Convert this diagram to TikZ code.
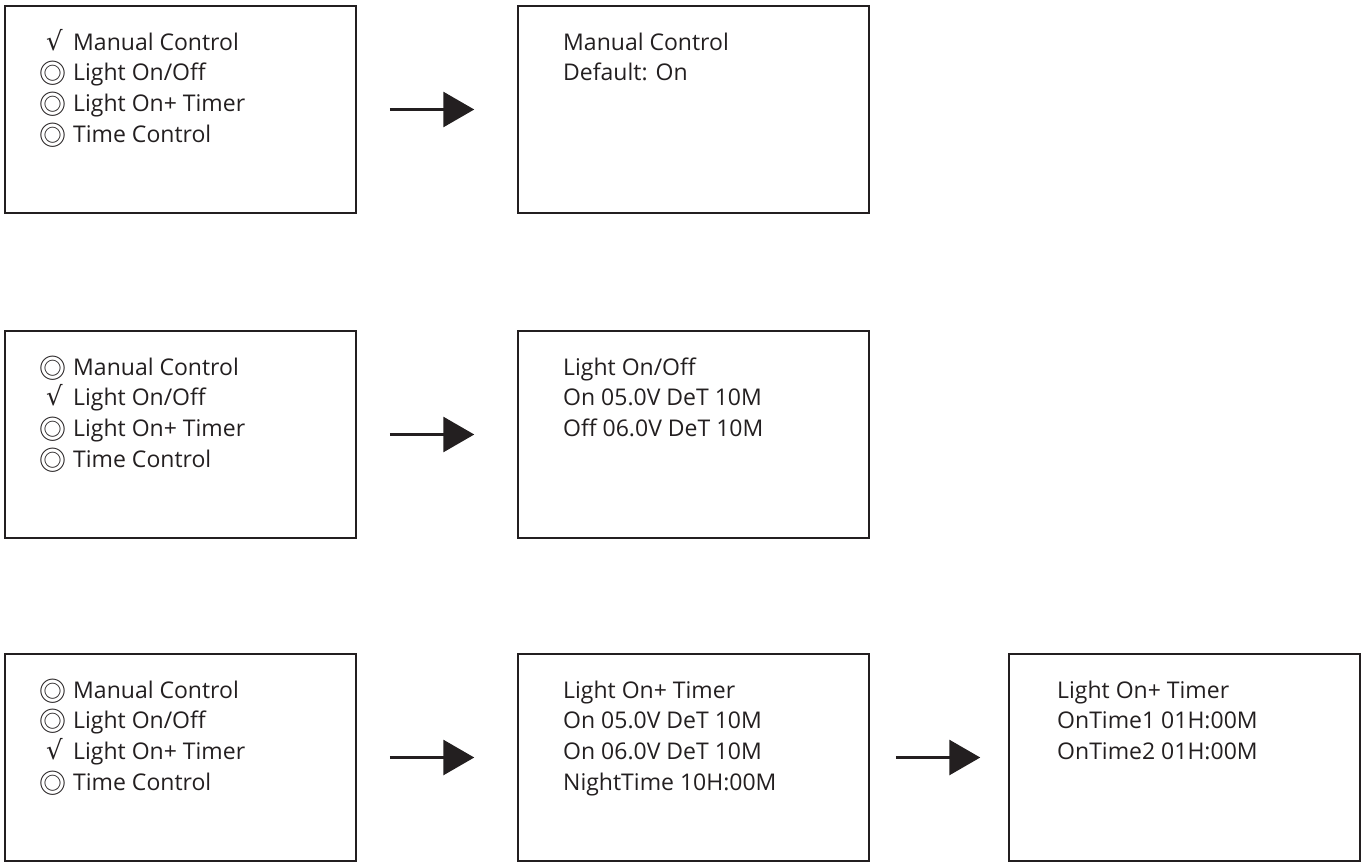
\documentclass[tikz,border=0pt]{standalone}
\usepackage{fontspec}
\setmainfont{Open Sans}
\newfontfamily\symfont{Noto Sans CJK SC}
\newfontfamily\ckfont{DejaVu Sans}
\usetikzlibrary{arrows.meta}
\definecolor{ink}{HTML}{231F20}
\newcommand{\rb}{\makebox[30pt][l]{\hspace{-4pt}\raisebox{-3pt}{\symfont\fontsize{27}{27}\selectfont ◎}}}
\newcommand{\ck}{\makebox[30pt][l]{\hspace{3pt}\ckfont\fontsize{26}{26}\selectfont √}}
\begin{document}
\begin{tikzpicture}[x=1pt,y=-1pt,
  screen/.style={draw=ink,line width=1.5pt,minimum width=351pt,minimum height=207pt,inner sep=0pt},
  txt/.style={anchor=base west,inner sep=0pt,text=ink,font=\fontsize{23}{28}\selectfont},
  flow/.style={draw=ink,line width=3pt,-{Triangle[length=31pt,width=35pt]}}]
\useasboundingbox[fill=white] (0,0) rectangle (1362,862);
% boxes
\node[screen] (b11) at (180.5,109.5) {};
\node[screen] (b12) at (693.5,109.5) {};
\node[screen] (b21) at (180.5,434.5) {};
\node[screen] (b22) at (693.5,434.5) {};
\node[screen] (b31) at (180.5,757.5) {};
\node[screen] (b32) at (693.5,757.5) {};
\node[screen] (b33) at (1184.5,757.5) {};
% row 1
\node[txt] (t11a) at (43,50) {\ck Manual Control};
\node[txt] (t11b) at (43,80.7) {\rb Light On/Off};
\node[txt] (t11c) at (43,111.3) {\rb Light On+ Timer};
\node[txt] (t11d) at (43,142) {\rb Time Control};
\node[txt] (t12a) at (563,50) {Manual Control};
\node[txt] (t12b) at (563,80.7) {Default: On};
% row 2
\node[txt] (t21a) at (43,375) {\rb Manual Control};
\node[txt] (t21b) at (43,405.7) {\ck Light On/Off};
\node[txt] (t21c) at (43,436.3) {\rb Light On+ Timer};
\node[txt] (t21d) at (43,467) {\rb Time Control};
\node[txt] (t22a) at (563,375) {Light On/Off};
\node[txt] (t22b) at (563,405.7) {On 05.0V DeT 10M};
\node[txt] (t22c) at (563,436.3) {Off 06.0V DeT 10M};
% row 3
\node[txt] (t31a) at (43,698) {\rb Manual Control};
\node[txt] (t31b) at (43,728.7) {\rb Light On/Off};
\node[txt] (t31c) at (43,759.3) {\ck Light On+ Timer};
\node[txt] (t31d) at (43,790) {\rb Time Control};
\node[txt] (t32a) at (563,698) {Light On+ Timer};
\node[txt] (t32b) at (563,728.7) {On 05.0V DeT 10M};
\node[txt] (t32c) at (563,759.3) {On 06.0V DeT 10M};
\node[txt] (t32d) at (563,790) {NightTime 10H:00M};
\node[txt] (t33a) at (1057,698) {Light On+ Timer};
\node[txt] (t33b) at (1057,728.7) {OnTime1 01H:00M};
\node[txt] (t33c) at (1057,759.3) {OnTime2 01H:00M};
% arrows
\draw[flow,shorten <=33pt,shorten >=43pt] (b11.east) -- (b12.west);
\draw[flow,shorten <=33pt,shorten >=43pt] (b21.east) -- (b22.west);
\draw[flow,shorten <=33pt,shorten >=43pt] (b31.east) -- (b32.west);
\draw[flow,shorten <=26pt,shorten >=28pt] (b32.east) -- (b33.west);
\end{tikzpicture}
\end{document}
